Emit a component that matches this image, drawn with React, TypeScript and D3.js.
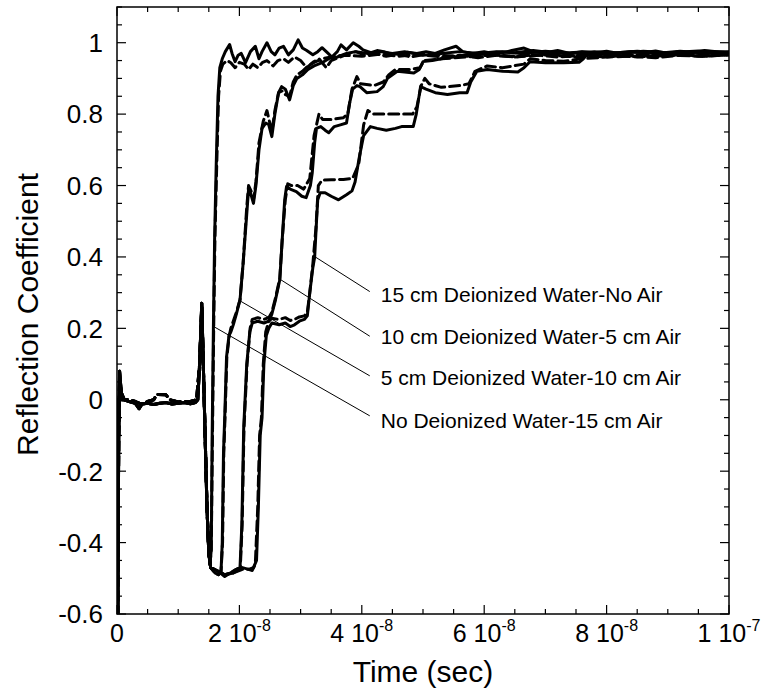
import React from "react";
import * as d3 from "d3";

// ---------- data (time in ns, reflection coefficient) ----------
const xTickValues = [0, 2e-8, 4e-8, 6e-8, 8e-8, 1e-7];
const xTickMantissa = ["0", "2 10", "4 10", "6 10", "8 10", "1 10"];
const xTickExponent = ["", "-8", "-8", "-8", "-8", "-7"];
const yTickValues = [-0.6, -0.4, -0.2, 0, 0.2, 0.4, 0.6, 0.8, 1];
const yTickLabels = ["-0.6", "-0.4", "-0.2", "0", "0.2", "0.4", "0.6", "0.8", "1"];

const baseSolid: [number, number][] = [
  [0, 0], [0.12, -0.66], [0.28, -0.1], [0.42, 0.08], [0.7, 0.02], [1.2, 0.0], [2, -0.005], [3, -0.01],
  [3.6, -0.025], [4.1, -0.012], [5, -0.01], [6, -0.013], [7, -0.01], [8, -0.008], [9, -0.012],
  [10, -0.01], [11, -0.008], [12, -0.011], [12.8, -0.008], [13.2, 0.0], [13.5, 0.1], [13.85, 0.27],
  [14.1, 0.1], [14.4, -0.1], [14.7, -0.3], [15.0, -0.43],
];
const baseDashed: [number, number][] = [
  [0, 0], [0.12, -0.66], [0.28, -0.1], [0.42, 0.06], [0.8, 0.0], [2, 0.0], [3, -0.005], [4, -0.012],
  [5, -0.005], [6, 0.0], [6.5, 0.015], [8, 0.014], [8.6, 0.0], [10, -0.006], [12, -0.005], [13.0, 0.0],
  [13.5, 0.1], [13.85, 0.26], [14.1, 0.1], [14.4, -0.1], [14.7, -0.3], [15.0, -0.43],
];

const tailA: [number, number][] = [
  [15.2, -0.46], [15.4, -0.42], [15.55, -0.1], [15.75, 0.2], [15.95, 0.45], [16.2, 0.65], [16.5, 0.85],
  [16.8, 0.93], [17.2, 0.955], [17.7, 0.975], [18.4, 0.995], [18.8, 0.97], [19.3, 0.947], [19.8, 0.965],
  [20.3, 0.97], [21.0, 0.944], [21.8, 0.975], [22.6, 0.99], [23.2, 0.955], [23.7, 0.975], [24.5, 1.0],
  [25.2, 0.975], [25.8, 0.966], [26.5, 0.985], [27.2, 0.99], [28.0, 0.966], [28.8, 0.98], [29.6, 1.008],
  [30.3, 0.985], [31.0, 0.978], [32.0, 0.966], [32.8, 0.975], [33.5, 0.986], [34.5, 0.97], [35.1, 0.96],
  [36.0, 0.975], [36.6, 0.994], [37.5, 0.98], [38.6, 1.0], [39.5, 0.99], [40.2, 0.98], [41.5, 0.972],
  [42.5, 0.978], [43.6, 0.975], [44.5, 0.97], [46, 0.968], [47.5, 0.973], [49, 0.97], [50.5, 0.975],
  [52, 0.97], [53.5, 0.98], [55.4, 0.99], [56.5, 0.975], [58, 0.97], [60, 0.975], [62, 0.968],
  [64.5, 0.978], [66.5, 0.985], [68, 0.975], [70, 0.972], [72, 0.978], [74, 0.97], [76, 0.975],
  [78, 0.972], [80, 0.976], [82, 0.97], [84, 0.975], [86, 0.972], [88, 0.977], [90, 0.97], [92, 0.975],
  [94, 0.972], [96, 0.978], [98, 0.975], [100, 0.972],
];
const tailADashed: [number, number][] = [
  [15.2, -0.46], [15.4, -0.42], [15.6, -0.1], [15.8, 0.2], [16.0, 0.45], [16.3, 0.66], [16.6, 0.85],
  [16.9, 0.92], [17.3, 0.94], [18, 0.95], [18.6, 0.944], [19.3, 0.93], [20, 0.945], [20.8, 0.94],
  [21.5, 0.925], [22.2, 0.94], [23, 0.93], [23.8, 0.945], [24.5, 0.95], [25.5, 0.935], [26.3, 0.95],
  [27.2, 0.955], [28, 0.945], [29, 0.96], [30, 0.95], [31, 0.93], [32, 0.945], [33, 0.955], [34.2, 0.93],
  [35, 0.95], [36.5, 0.96], [38, 0.97], [39, 0.975], [40.5, 0.965], [42, 0.97], [44, 0.962], [46, 0.968],
  [48, 0.96], [50, 0.966], [53, 0.96], [56, 0.965], [59, 0.958], [62, 0.965], [65, 0.96], [68, 0.966],
  [72, 0.96], [76, 0.965], [80, 0.96], [84, 0.966], [88, 0.962], [92, 0.967], [96, 0.962], [100, 0.966],
];

const tailB: [number, number][] = [
  [15.3, -0.47], [16.0, -0.485], [16.6, -0.49], [17.0, -0.48], [17.2, -0.4], [17.4, -0.15], [17.6, -0.05],
  [17.9, 0.12], [18.3, 0.18], [18.6, 0.19], [19.0, 0.21], [19.5, 0.24], [20.1, 0.28], [20.6, 0.38],
  [20.9, 0.45], [21.2, 0.52], [21.5, 0.59], [21.8, 0.58], [22.3, 0.55], [22.7, 0.6], [23.2, 0.7],
  [23.7, 0.76], [24.3, 0.775], [24.8, 0.77], [25.3, 0.737], [25.8, 0.8], [26.4, 0.86], [26.9, 0.877],
  [27.5, 0.87], [28.2, 0.84], [28.8, 0.88], [29.4, 0.9], [30.3, 0.91], [31.2, 0.925], [32.2, 0.935],
  [33.5, 0.944], [34.8, 0.957], [36, 0.96], [37.5, 0.97], [39, 0.975], [41, 0.97], [43, 0.975],
  [45, 0.97], [47, 0.975], [50, 0.965], [53, 0.97], [56, 0.975], [59, 0.97], [62, 0.975], [65, 0.972],
  [68, 0.978], [72, 0.97], [76, 0.974], [80, 0.97], [85, 0.976], [90, 0.97], [95, 0.975], [100, 0.97],
];
const tailBDashed: [number, number][] = [
  [15.3, -0.47], [16.0, -0.485], [16.6, -0.49], [17.0, -0.48], [17.25, -0.4], [17.45, -0.15],
  [17.65, -0.05], [17.95, 0.12], [18.35, 0.18], [18.6, 0.2], [19.0, 0.22], [19.5, 0.245], [20.1, 0.28],
  [20.6, 0.38], [20.9, 0.46], [21.2, 0.54], [21.5, 0.6], [21.9, 0.585], [22.3, 0.56], [22.7, 0.61],
  [23.2, 0.72], [23.9, 0.78], [24.5, 0.81], [24.9, 0.78], [25.3, 0.75], [25.8, 0.81], [26.4, 0.86],
  [27.0, 0.865], [27.5, 0.855], [28.2, 0.85], [28.8, 0.89], [29.4, 0.91], [30.3, 0.92], [31.2, 0.935],
  [32.2, 0.945], [33.5, 0.955], [35, 0.96], [37, 0.965], [40, 0.962], [43, 0.968], [46, 0.962],
  [50, 0.968], [55, 0.962], [60, 0.968], [65, 0.962], [70, 0.968], [75, 0.963], [80, 0.968],
  [85, 0.963], [90, 0.968], [95, 0.964], [100, 0.968],
];

const tailC: [number, number][] = [
  [15.3, -0.47], [16.5, -0.48], [17.6, -0.495], [18.5, -0.485], [19.5, -0.475], [20.1, -0.47],
  [20.4, -0.35], [20.7, -0.08], [21.2, 0.1], [21.7, 0.19], [22.1, 0.215], [23, 0.22], [24, 0.215],
  [24.8, 0.22], [25.3, 0.24], [25.9, 0.28], [26.6, 0.336], [27.0, 0.45], [27.4, 0.56], [27.7, 0.597],
  [28.3, 0.59], [29.3, 0.583], [30.2, 0.57], [30.9, 0.566], [31.6, 0.6], [31.9, 0.635], [32.3, 0.72],
  [32.6, 0.76], [33.3, 0.765], [34.0, 0.755], [34.6, 0.748], [35.5, 0.765], [36.5, 0.77], [37.5, 0.775],
  [38.0, 0.83], [38.5, 0.87], [39.2, 0.88], [39.7, 0.877], [40.8, 0.86], [42.5, 0.863], [43.5, 0.877],
  [44.2, 0.9], [44.6, 0.905], [45.8, 0.92], [47, 0.918], [48.5, 0.915], [49.4, 0.925], [50, 0.947],
  [51.5, 0.95], [53, 0.955], [55, 0.96], [57, 0.965], [60, 0.97], [63, 0.975], [66, 0.97], [70, 0.976],
  [74, 0.97], [78, 0.975], [82, 0.97], [86, 0.976], [90, 0.972], [95, 0.977], [100, 0.973],
];
const tailCDashed: [number, number][] = [
  [15.3, -0.47], [16.5, -0.48], [17.6, -0.49], [18.5, -0.485], [19.5, -0.475], [20.15, -0.47],
  [20.45, -0.35], [20.75, -0.08], [21.25, 0.1], [21.75, 0.2], [22.1, 0.225], [23, 0.23], [24, 0.225],
  [24.8, 0.23], [25.3, 0.245], [25.9, 0.285], [26.6, 0.34], [27.0, 0.45], [27.5, 0.56], [27.9, 0.605],
  [28.5, 0.6], [29.5, 0.6], [30.5, 0.59], [31.5, 0.62], [32.2, 0.74], [33.0, 0.8], [33.6, 0.785],
  [35, 0.785], [37, 0.79], [37.7, 0.8], [38.4, 0.87], [39.2, 0.905], [39.8, 0.885], [42, 0.88],
  [43.5, 0.89], [44.4, 0.91], [45.5, 0.925], [48, 0.925], [49.5, 0.93], [50.2, 0.95], [53, 0.955],
  [57, 0.96], [61, 0.965], [65, 0.96], [70, 0.966], [75, 0.96], [80, 0.965], [85, 0.96], [90, 0.966],
  [95, 0.962], [100, 0.966],
];

const tailD: [number, number][] = [
  [15.3, -0.47], [16.5, -0.48], [17.6, -0.49], [19, -0.485], [20.5, -0.47], [21.5, -0.475], [22.3, -0.47],
  [22.8, -0.45], [23.1, -0.3], [23.4, -0.1], [23.7, -0.05], [24.0, 0.1], [24.4, 0.18], [24.8, 0.2],
  [25.3, 0.215], [26.5, 0.21], [27.5, 0.215], [28.3, 0.205], [29.0, 0.21], [29.8, 0.22], [30.6, 0.225],
  [31.1, 0.235], [31.5, 0.3], [32.0, 0.37], [32.3, 0.4], [32.6, 0.5], [32.8, 0.56], [33.2, 0.58],
  [34, 0.58], [35, 0.57], [36.2, 0.56], [37.5, 0.574], [38.4, 0.585], [38.9, 0.61], [39.6, 0.68],
  [40.3, 0.74], [41.4, 0.765], [42.5, 0.76], [44, 0.755], [45.5, 0.76], [46.5, 0.765], [48.4, 0.765],
  [48.9, 0.8], [49.6, 0.877], [50.5, 0.87], [52, 0.86], [54, 0.855], [56, 0.86], [57.2, 0.86],
  [57.8, 0.89], [58.8, 0.92], [60.5, 0.925], [63, 0.92], [65.5, 0.918], [66.5, 0.93], [67.5, 0.947],
  [70, 0.944], [73, 0.944], [75.5, 0.945], [76.2, 0.955], [76.8, 0.966], [80, 0.97], [84, 0.975],
  [88, 0.97], [92, 0.976], [96, 0.971], [100, 0.975],
];
const tailDDashed: [number, number][] = [
  [15.3, -0.47], [16.5, -0.48], [17.6, -0.49], [19, -0.485], [20.5, -0.475], [21.5, -0.475], [22.1, -0.478],
  [22.6, -0.46], [23.0, -0.3], [23.3, -0.1], [23.6, -0.05], [23.9, 0.1], [24.3, 0.19], [24.8, 0.22],
  [25.3, 0.228], [26.5, 0.225], [27.5, 0.23], [28.3, 0.222], [29.0, 0.225], [29.8, 0.232], [30.6, 0.235],
  [31.1, 0.245], [31.5, 0.3], [32.0, 0.38], [32.5, 0.48], [32.9, 0.6], [33.5, 0.615], [35, 0.616],
  [37, 0.617], [38.5, 0.62], [39.5, 0.66], [40.3, 0.77], [41.0, 0.81], [42, 0.8], [45, 0.8], [48.3, 0.8],
  [49, 0.82], [49.7, 0.88], [50.3, 0.9], [51, 0.885], [53, 0.875], [56, 0.88], [57.5, 0.885], [58.5, 0.92],
  [60.5, 0.935], [63, 0.93], [66.5, 0.94], [67.5, 0.955], [70, 0.95], [73, 0.948], [76, 0.955],
  [80, 0.96], [84, 0.962], [88, 0.958], [92, 0.965], [96, 0.962], [100, 0.966],
];

const seriesNames = [
  "No Deionized Water-15 cm Air",
  "5 cm Deionized Water-10 cm Air",
  "10 cm Deionized Water-5 cm Air",
  "15 cm Deionized Water-No Air",
];
const solidTails = [tailA, tailB, tailC, tailD];
const dashedTails = [tailADashed, tailBDashed, tailCDashed, tailDDashed];

// annotation leader lines: point on curve (ns, value) -> end near label (ns, value); label baseline value
const leaderFrom: [number, number][] = [[15.7, 0.206], [20.1, 0.277], [26.5, 0.339], [32.3, 0.401]];
const leaderTo: [number, number][] = [[41.3, -0.045], [41.3, 0.067], [41.3, 0.178], [41.3, 0.303]];
const labelAt: [number, number][] = [[43.1, -0.078], [43.1, 0.04], [43.1, 0.155], [43.1, 0.274]];

// ---------- layout ----------
const W = 764;
const H = 694;
const left = 117;
const right = 729;
const top = 7;
const bottom = 614;

export default function App() {
  const x = d3.scaleLinear().domain([0, 1e-7]).range([left, right]);
  const y = d3.scaleLinear().domain([-0.6, 1.1]).range([bottom, top]);
  const line = d3
    .line<[number, number]>()
    .x((d) => x(d[0] * 1e-9))
    .y((d) => y(d[1]));

  const xMinor = d3.range(0, 1e-7 + 1e-12, 0.5e-8);
  const yMinor = d3.range(-0.6, 1.1 + 1e-9, 0.05);
  const font = "'Liberation Sans', Arial, Helvetica, sans-serif";

  return (
    <svg width={W} height={H} style={{ display: "block", position: "absolute", left: 0, top: 0 }}
      fontFamily={font}>
      <rect x={0} y={0} width={W} height={H} fill="#fff" />
      <defs>
        <clipPath id="plotclip">
          <rect x={left} y={top} width={right - left} height={bottom - top} />
        </clipPath>
      </defs>

      {/* ticks */}
      <g stroke="#000" strokeWidth={1.2}>
        {xMinor.map((v, i) => {
          const major = i % 4 === 0;
          const len = major ? 9 : 5;
          return (
            <g key={"xt" + i}>
              <line x1={x(v)} x2={x(v)} y1={bottom} y2={bottom - len} />
              <line x1={x(v)} x2={x(v)} y1={top} y2={top + len} />
            </g>
          );
        })}
        {yMinor.map((v, i) => {
          const major = i % 4 === 0;
          const len = major ? 9 : 5;
          return (
            <g key={"yt" + i}>
              <line x1={left} x2={left + len} y1={y(v)} y2={y(v)} />
              <line x1={right} x2={right - len} y1={y(v)} y2={y(v)} />
            </g>
          );
        })}
      </g>

      {/* data */}
      <g clipPath="url(#plotclip)" fill="none" stroke="#000" strokeLinejoin="round" strokeLinecap="round">
        {dashedTails.map((t, i) => (
          <path key={"d" + i} d={line([...baseDashed, ...t]) || ""} strokeWidth={3}
            strokeDasharray="10,5" />
        ))}
        {solidTails.map((t, i) => (
          <path key={"s" + i} d={line([...baseSolid, ...t]) || ""} strokeWidth={3} />
        ))}
      </g>

      {/* frame */}
      <rect x={left} y={top} width={right - left} height={bottom - top} fill="none" stroke="#000"
        strokeWidth={1.5} />

      {/* annotations */}
      <g stroke="#000" strokeWidth={1}>
        {leaderFrom.map((p, i) => (
          <line key={"l" + i} x1={x(p[0] * 1e-9)} y1={y(p[1])} x2={x(leaderTo[i][0] * 1e-9)}
            y2={y(leaderTo[i][1])} />
        ))}
      </g>
      {seriesNames.map((s, i) => (
        <text key={"n" + i} x={x(labelAt[i][0] * 1e-9)} y={y(labelAt[i][1])} fontSize={21} fill="#000">
          {s}
        </text>
      ))}

      {/* tick labels */}
      {yTickValues.map((v, i) => (
        <text key={"yl" + i} x={103} y={y(v)} dy="0.36em" textAnchor="end" fontSize={26}>
          {yTickLabels[i]}
        </text>
      ))}
      {xTickValues.map((v, i) => (
        <text key={"xl" + i} x={x(v)} y={bottom + 28} textAnchor="middle" fontSize={25}>
          {xTickMantissa[i]}
          {xTickExponent[i] && (
            <tspan fontSize={16} dy={-11}>
              {xTickExponent[i]}
            </tspan>
          )}
        </text>
      ))}

      {/* axis titles */}
      <text x={(left + right) / 2} y={H - 12} textAnchor="middle" fontSize={30}>
        Time (sec)
      </text>
      <text transform={`translate(38, ${(top + bottom) / 2 + 4}) rotate(-90)`} textAnchor="middle" fontSize={30}>
        Reflection Coefficient
      </text>
    </svg>
  );
}
